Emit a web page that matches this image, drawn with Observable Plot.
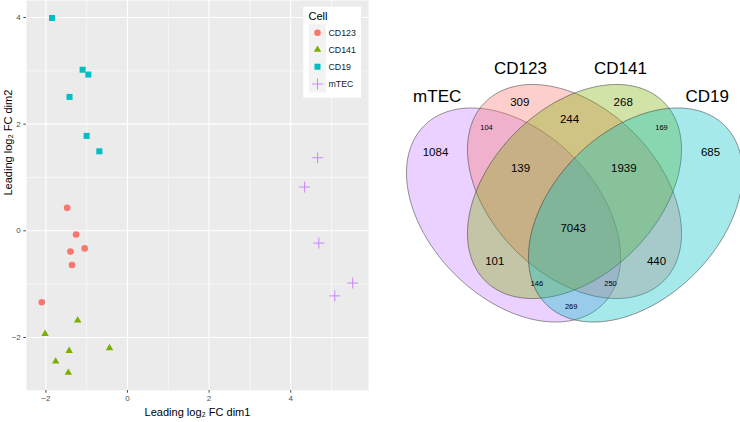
<!DOCTYPE html>
<html>
<head>
<meta charset="utf-8">
<script src="https://cdn.jsdelivr.net/npm/d3@7"></script>
<script src="https://cdn.jsdelivr.net/npm/@observablehq/plot@0.6"></script>
<style>
  html, body { margin: 0; padding: 0; background: #fff; }
  #wrap { position: relative; width: 740px; height: 422px; overflow: hidden; font-family: "Liberation Sans", Arial, sans-serif; }
  #left, #right, #legend { position: absolute; top: 0; }
  #left { left: 0; }
  #legend { left: 0; pointer-events: none; }
  #right { left: 380px; }
</style>
</head>
<body>
<div id="wrap"><div id="left"></div><div id="legend"></div><div id="right"></div></div>
<script>
// ---------- MDS scatter data ----------
const cells = ["CD123", "CD141", "CD19", "mTEC"];
const cellColors = ["#F8766D", "#7CAE00", "#00BFC4", "#C77CFF"];
const cellSymbols = ["circle", "triangle", "square", "plus"];

const cd123Dim1 = [-1.48, -1.26, -1.40, -1.05, -1.36, -2.10];
const cd123Dim2 = [0.43, -0.07, -0.39, -0.33, -0.64, -1.34];
const cd141Dim1 = [-1.22, -2.02, -0.44, -1.43, -1.76, -1.45];
const cd141Dim2 = [-1.68, -1.93, -2.20, -2.25, -2.45, -2.66];
const cd19Dim1 = [-1.85, -1.10, -0.96, -1.42, -1.00, -0.69];
const cd19Dim2 = [3.99, 3.02, 2.93, 2.51, 1.78, 1.49];
const mtecDim1 = [4.66, 4.34, 4.69, 5.08, 5.52];
const mtecDim2 = [1.37, 0.82, -0.23, -1.22, -0.98];

const xMajor = [-2, 0, 2, 4];
const xMinor = [-1, 1, 3, 5];
const yMajor = [-2, 0, 2, 4];
const yMinor = [-3, -1, 1, 3];

const xTitle = "Leading log\u2082 FC dim1";
const yTitle = "Leading log\u2082 FC dim2";
const legendTitle = "Cell";

// ---------- Venn data ----------
const vennSets = ["mTEC", "CD123", "CD141", "CD19"];
const vennColors = ["#C77CFF", "#F8766D", "#7CAE00", "#00BFC4"];
const ellipseCx = [133, 194, 194, 255];
const ellipseCy = [214.5, 191, 191, 214.5];
const ellipseA = [126.3, 126.3, 126.3, 126.3];
const ellipseB = [83.4, 83.4, 83.4, 83.4];
const ellipseAngle = [45, 45, -45, -45];
const setLabelX = [56.7, 140, 240, 326.7];
const setLabelY = [96, 67.7, 67.7, 96];

const bigCounts = [309, 268, 244, 1084, 685, 139, 1939, 7043, 101, 440];
const bigX = [139.3, 242.7, 189, 55, 330, 140, 243.3, 192.7, 114.3, 276];
const bigY = [101.7, 101.7, 119.3, 151.7, 151.7, 167.7, 167.7, 228.3, 261, 261];
const smallCounts = [104, 169, 146, 250, 269];
const smallX = [106, 281, 156.3, 230, 190.7];
const smallY = [127.3, 127.3, 283.3, 283.3, 306];

// ---------- build tables ----------
const groups = [
  {cell: "CD123", d1: cd123Dim1, d2: cd123Dim2},
  {cell: "CD141", d1: cd141Dim1, d2: cd141Dim2},
  {cell: "CD19", d1: cd19Dim1, d2: cd19Dim2},
  {cell: "mTEC", d1: mtecDim1, d2: mtecDim2}
].map(g => ({cell: g.cell, rows: g.d1.map((v, i) => ({cell: g.cell, dim1: v, dim2: g.d2[i]}))}));

const symbolR = {circle: 3.3, triangle: 2.75, square: 3.4, plus: 3.63};

const font = "'Liberation Sans', Arial, sans-serif";

const dotMarks = groups.map(g => {
  const k = cells.indexOf(g.cell);
  const sym = cellSymbols[k];
  if (sym === "plus") {
    return Plot.dot(g.rows, {x: "dim1", y: "dim2", symbol: sym, r: symbolR[sym], stroke: cellColors[k], fill: "none", strokeWidth: 0.9});
  }
  return Plot.dot(g.rows, {x: "dim1", y: "dim2", symbol: sym, r: symbolR[sym], fill: cellColors[k], stroke: "none"});
});

const left = Plot.plot({
  width: 380, height: 422,
  marginLeft: 26, marginRight: 12, marginTop: 0, marginBottom: 32,
  x: {domain: [-2.475, 5.907]},
  y: {domain: [-2.994, 4.318]},
  style: {fontFamily: font, background: "transparent"},
  marks: [
    Plot.frame({fill: "#EBEBEB", stroke: "none"}),
    Plot.ruleX(xMinor, {stroke: "#FFFFFF", strokeWidth: 0.55}),
    Plot.ruleY(yMinor, {stroke: "#FFFFFF", strokeWidth: 0.55}),
    Plot.ruleX(xMajor, {stroke: "#FFFFFF", strokeWidth: 1.1}),
    Plot.ruleY(yMajor, {stroke: "#FFFFFF", strokeWidth: 1.1}),
    Plot.axisX({ticks: xMajor, tickSize: 2.7, tickPadding: 2, color: "#4D4D4D", fontSize: 8, label: null}),
    Plot.axisY({ticks: yMajor, tickSize: 2.7, tickPadding: 3, color: "#4D4D4D", fontSize: 8, label: null}),
    Plot.text([xTitle], {frameAnchor: "bottom", dy: 25, fontSize: 11, fill: "#000"}),
    Plot.text([yTitle], {frameAnchor: "left", dx: -18, rotate: -90, fontSize: 11, fill: "#000"}),
    ...dotMarks
  ]
});
document.getElementById("left").appendChild(left);

// ---------- legend (inside panel, top-right) ----------
const leg = d3.select("#legend").append("svg").attr("width", 380).attr("height", 422)
  .style("font-family", font);
leg.append("rect").attr("x", 303.3).attr("y", 6.7).attr("width", 57.7).attr("height", 91).attr("fill", "#FFFFFF");
leg.append("text").attr("x", 308.5).attr("y", 16.5).attr("dy", "0.35em").attr("font-size", 11).text(legendTitle);
const symMap = {circle: d3.symbolCircle, triangle: d3.symbolTriangle, square: d3.symbolSquare, plus: d3.symbolPlus};
const legY = [32.7, 49.7, 66.7, 84];
cells.forEach((c, i) => {
  const y = legY[i];
  leg.append("rect").attr("x", 309).attr("y", y - 8.5).attr("width", 17).attr("height", 17).attr("fill", "#F2F2F2");
  const sym = cellSymbols[i];
  const r = symbolR[sym];
  const p = leg.append("path").attr("transform", `translate(317.5,${y})`)
    .attr("d", d3.symbol(symMap[sym], Math.PI * r * r)());
  if (sym === "plus") p.attr("fill", "none").attr("stroke", cellColors[i]).attr("stroke-width", 0.9);
  else p.attr("fill", cellColors[i]);
  leg.append("text").attr("x", 328.5).attr("y", y).attr("dy", "0.35em").attr("font-size", 8.8).attr("fill", "#1A1A1A").text(c);
});

// ---------- Venn diagram ----------
function ellipsePoints(i) {
  const th = ellipseAngle[i] * Math.PI / 180;
  const pts = [];
  for (let k = 0; k < 360; k++) {
    const t = k * Math.PI / 180;
    const u = ellipseA[i] * Math.cos(t), v = ellipseB[i] * Math.sin(t);
    pts.push({x: ellipseCx[i] + u * Math.cos(th) - v * Math.sin(th), y: ellipseCy[i] + u * Math.sin(th) + v * Math.cos(th)});
  }
  return pts;
}
const ellipseMarks = vennSets.map((s, i) => Plot.line(ellipsePoints(i), {
  x: "x", y: "y", curve: "linear-closed", fill: vennColors[i], fillOpacity: 0.35,
  stroke: "#333333", strokeWidth: 0.7, strokeOpacity: 0.75
}));
const setLabels = vennSets.map((s, i) => ({s, x: setLabelX[i], y: setLabelY[i]}));
const bigLabels = bigCounts.map((n, i) => ({n: String(n), x: bigX[i], y: bigY[i]}));
const smallLabels = smallCounts.map((n, i) => ({n: String(n), x: smallX[i], y: smallY[i]}));

const right = Plot.plot({
  width: 360, height: 422, margin: 0,
  x: {domain: [0, 360], axis: null},
  y: {domain: [422, 0], axis: null},
  style: {fontFamily: font, background: "transparent"},
  marks: [
    ...ellipseMarks,
    Plot.text(setLabels, {x: "x", y: "y", text: "s", fontSize: 17, fill: "#000"}),
    Plot.text(bigLabels, {x: "x", y: "y", text: "n", fontSize: 11.5, fill: "#000"}),
    Plot.text(smallLabels, {x: "x", y: "y", text: "n", fontSize: 7.5, fill: "#000"})
  ]
});
document.getElementById("right").appendChild(right);
</script>
</body>
</html>
